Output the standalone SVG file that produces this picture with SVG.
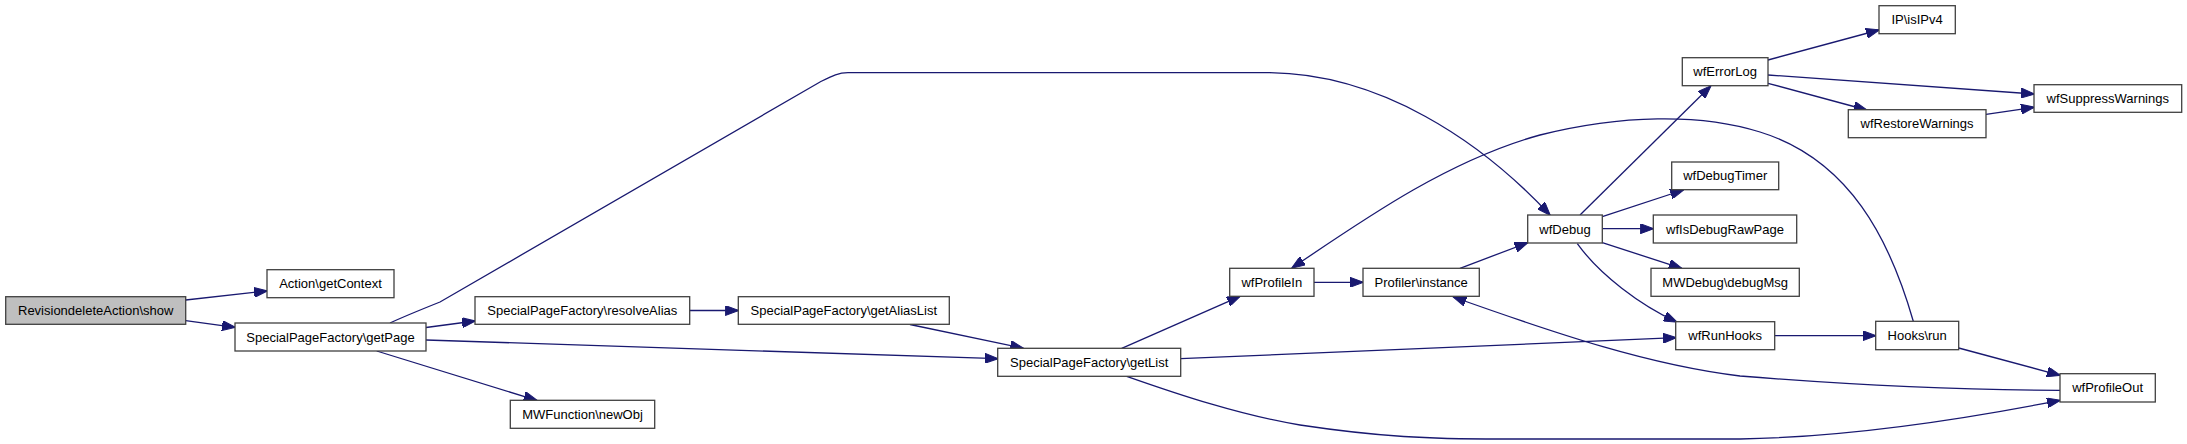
<svg xmlns="http://www.w3.org/2000/svg" width="2187" height="444" viewBox="0 0 2187 444">
<style>
.n rect{fill:#ffffff;stroke:#404040;stroke-width:1.3}
.n.start rect{fill:#bfbfbf}
.n text{font-family:"Liberation Sans",Arial,Helvetica,sans-serif;font-size:13px;fill:#000;text-anchor:middle}
.e path{fill:none;stroke:#191970;stroke-width:1.3;marker-end:url(#arr)}
</style>
<defs>
<marker id="arr" markerUnits="userSpaceOnUse" markerWidth="14" markerHeight="10" refX="13" refY="5" orient="auto">
<path d="M0,0 L13.5,5 L0,10 z" fill="#191970" stroke="#191970" stroke-width="1"/>
</marker>
</defs>
<rect width="2187" height="444" fill="#ffffff"/>
<g id="edges" class="e">
<path d="M185.7,300 L267,291"/>
<path d="M185.7,320.7 L235,327.3"/>
<path d="M390,323 C405,316 420,310 440,302 L820,82 C832,76 838,72.7 848,72.7 L1270,72.7 C1380,74 1480,140 1550,215"/>
<path d="M426,327.5 L475,321"/>
<path d="M426,340 L997.7,358.7"/>
<path d="M376.7,351 L536.7,400.3"/>
<path d="M689.7,310.5 L738.3,310.5"/>
<path d="M910,324.5 L1023.3,348.3"/>
<path d="M1121.7,348.3 L1240,296.3"/>
<path d="M1180.7,358.7 L1676,337.7"/>
<path d="M1126.7,376.3 C1180,395 1240,415 1300,425 C1380,437 1430,439 1500,439 L1740,439 C1850,437 1960,420 2060,400.3"/>
<path d="M1314,282.3 L1363,282.3"/>
<path d="M1460,268.3 L1527.7,242.7"/>
<path d="M1580,215 L1710.7,86"/>
<path d="M1602.3,216.7 L1683.3,190"/>
<path d="M1602.3,228.7 L1653.3,228.7"/>
<path d="M1602.3,242.7 L1681.7,268.3"/>
<path d="M1577.3,243.7 C1600,275 1640,305 1676.7,322"/>
<path d="M1768,60 L1879,30"/>
<path d="M1768,75 L2034,94"/>
<path d="M1768,83.3 L1866.7,110"/>
<path d="M1986,114.3 L2034,107.3"/>
<path d="M1774.7,335.7 L1875.7,335.7"/>
<path d="M1913.3,321.3 C1890,240 1850,160 1760,132 C1700,113 1620,115 1540,135 C1450,160 1370,215 1292,268"/>
<path d="M1958.7,348 L2060,375.3"/>
<path d="M2060,390.3 C1950,390 1850,385 1740,376 C1650,365 1560,335 1453.3,297"/>
</g>
<g id="n_show" class="n start"><rect x="5.7" y="296.7" width="180" height="27.6"/><text x="95.7" y="315">RevisiondeleteAction\show</text></g>
<g id="n_getContext" class="n"><rect x="267" y="269.7" width="127" height="28"/><text x="330.5" y="288.2">Action\getContext</text></g>
<g id="n_getPage" class="n"><rect x="235" y="323" width="191" height="28"/><text x="330.5" y="341.5">SpecialPageFactory\getPage</text></g>
<g id="n_resolveAlias" class="n"><rect x="475" y="296.7" width="214.7" height="27.6"/><text x="582.3" y="315">SpecialPageFactory\resolveAlias</text></g>
<g id="n_getAliasList" class="n"><rect x="738.3" y="296.7" width="211" height="27.6"/><text x="843.8" y="315">SpecialPageFactory\getAliasList</text></g>
<g id="n_newObj" class="n"><rect x="510.3" y="400.3" width="144.4" height="28"/><text x="582.5" y="418.8">MWFunction\newObj</text></g>
<g id="n_getList" class="n"><rect x="997.7" y="348.3" width="183" height="28"/><text x="1089.2" y="366.8">SpecialPageFactory\getList</text></g>
<g id="n_wfProfileIn" class="n"><rect x="1229.7" y="268.3" width="84.3" height="28"/><text x="1271.8" y="286.8">wfProfileIn</text></g>
<g id="n_profilerInstance" class="n"><rect x="1363" y="268.3" width="116.3" height="28"/><text x="1421.1" y="286.8">Profiler\instance</text></g>
<g id="n_wfDebug" class="n"><rect x="1527.7" y="215" width="74.6" height="28"/><text x="1565" y="233.5">wfDebug</text></g>
<g id="n_wfErrorLog" class="n"><rect x="1682.3" y="57.7" width="85.7" height="28"/><text x="1725.1" y="76.2">wfErrorLog</text></g>
<g id="n_wfDebugTimer" class="n"><rect x="1671.7" y="162" width="107" height="27.7"/><text x="1725.2" y="180.4">wfDebugTimer</text></g>
<g id="n_wfIsDebugRawPage" class="n"><rect x="1653.3" y="215" width="143.4" height="28"/><text x="1725" y="233.5">wfIsDebugRawPage</text></g>
<g id="n_debugMsg" class="n"><rect x="1651" y="268.3" width="148.3" height="28"/><text x="1725.2" y="286.8">MWDebug\debugMsg</text></g>
<g id="n_wfRunHooks" class="n"><rect x="1675.7" y="321.7" width="99" height="28"/><text x="1725.2" y="340.2">wfRunHooks</text></g>
<g id="n_isIPv4" class="n"><rect x="1879" y="5.7" width="76.3" height="28"/><text x="1917.1" y="24.2">IP\isIPv4</text></g>
<g id="n_wfRestoreWarnings" class="n"><rect x="1848.3" y="109.7" width="137.7" height="28"/><text x="1917.1" y="128.2">wfRestoreWarnings</text></g>
<g id="n_hooksRun" class="n"><rect x="1875.7" y="321.3" width="83" height="28.4"/><text x="1917.2" y="340">Hooks\run</text></g>
<g id="n_wfSuppressWarnings" class="n"><rect x="2034" y="84.7" width="147.7" height="27.6"/><text x="2107.8" y="103">wfSuppressWarnings</text></g>
<g id="n_wfProfileOut" class="n"><rect x="2060" y="373.7" width="95.3" height="28.3"/><text x="2107.6" y="392.3">wfProfileOut</text></g>
</svg>
